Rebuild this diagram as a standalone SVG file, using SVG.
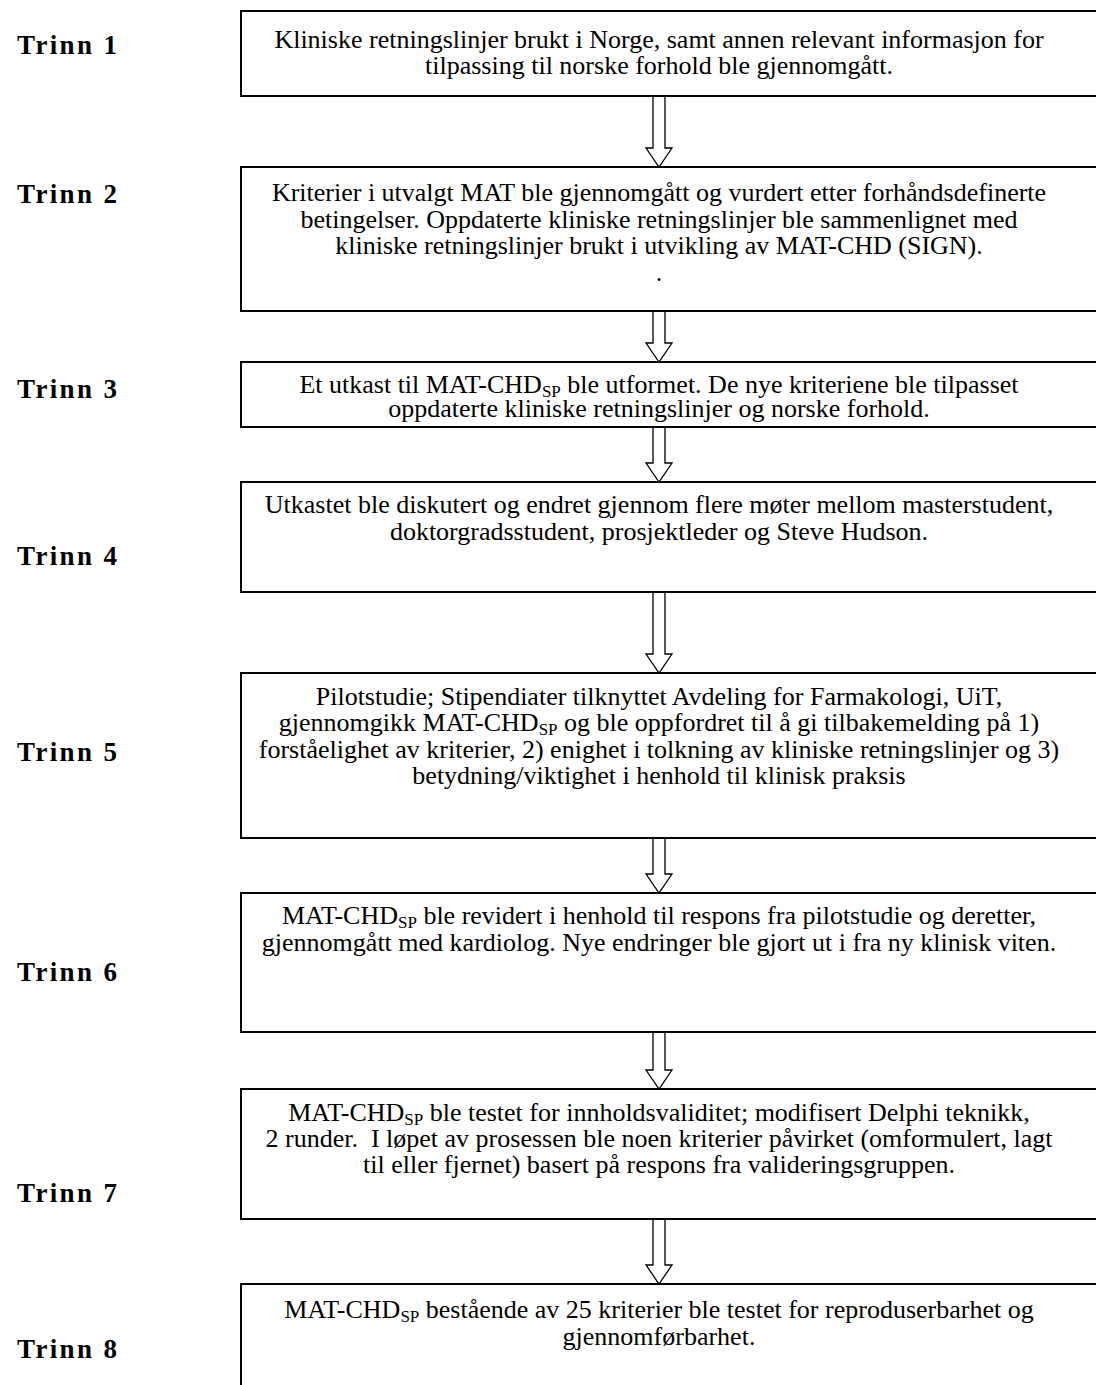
<svg xmlns="http://www.w3.org/2000/svg" width="1096" height="1385" viewBox="0 0 1096 1385">
<style>
.box{fill:#fff;stroke:#000;stroke-width:2}
.t{font-family:"Liberation Serif","Times New Roman",serif;font-size:26px;fill:#000;text-anchor:middle}
.lbl{font-family:"Liberation Serif","Times New Roman",serif;font-size:27px;font-weight:bold;fill:#000}
.sub{font-size:17px}
.arr{fill:#fff;stroke:#000;stroke-width:1.3;stroke-linejoin:miter}
</style>
<rect width="1096" height="1385" fill="#fff"/>
<g id="connectors">
<polygon class="arr" points="653,96 665,96 665,148 672,148 659,167 646,148 653,148"/>
<polygon class="arr" points="653,311 665,311 665,343 672,343 659,362 646,343 653,343"/>
<polygon class="arr" points="653,427 665,427 665,463 672,463 659,482 646,463 653,463"/>
<polygon class="arr" points="653,592 665,592 665,654 672,654 659,673 646,654 653,654"/>
<polygon class="arr" points="653,838 665,838 665,874 672,874 659,893 646,874 653,874"/>
<polygon class="arr" points="653,1032 665,1032 665,1070 672,1070 659,1089 646,1070 653,1070"/>
<polygon class="arr" points="653,1219 665,1219 665,1265 672,1265 659,1284 646,1265 653,1265"/>
</g>
<g id="step1">
<text class="lbl" x="17" y="54" textLength="100" lengthAdjust="spacing">Trinn 1</text>
<rect class="box" x="241" y="11" width="870" height="85"/>
<text class="t" x="659" y="48">Kliniske retningslinjer brukt i Norge, samt annen relevant informasjon for</text>
<text class="t" x="659" y="74">tilpassing til norske forhold ble gjennomgått.</text>
</g>
<g id="step2">
<text class="lbl" x="17" y="203" textLength="100" lengthAdjust="spacing">Trinn 2</text>
<rect class="box" x="241" y="167" width="870" height="144"/>
<text class="t" x="659" y="201">Kriterier i utvalgt MAT ble gjennomgått og vurdert etter forhåndsdefinerte</text>
<text class="t" x="659" y="228">betingelser. Oppdaterte kliniske retningslinjer ble sammenlignet med</text>
<text class="t" x="659" y="254">kliniske retningslinjer brukt i utvikling av MAT-CHD (SIGN).</text>
<text class="t" x="659" y="281">.</text>
</g>
<g id="step3">
<text class="lbl" x="17" y="398" textLength="100" lengthAdjust="spacing">Trinn 3</text>
<rect class="box" x="241" y="362" width="870" height="65"/>
<text class="t" x="659" y="393">Et utkast til MAT-CHD<tspan class="sub" dy="4">SP</tspan><tspan dy="-4"> ble utformet. De nye kriteriene ble tilpasset</tspan></text>
<text class="t" x="659" y="417">oppdaterte kliniske retningslinjer og norske forhold.</text>
</g>
<g id="step4">
<text class="lbl" x="17" y="565" textLength="100" lengthAdjust="spacing">Trinn 4</text>
<rect class="box" x="241" y="482" width="870" height="110"/>
<text class="t" x="659" y="513">Utkastet ble diskutert og endret gjennom flere møter mellom masterstudent,</text>
<text class="t" x="659" y="540">doktorgradsstudent, prosjektleder og Steve Hudson.</text>
</g>
<g id="step5">
<text class="lbl" x="17" y="761" textLength="100" lengthAdjust="spacing">Trinn 5</text>
<rect class="box" x="241" y="673" width="870" height="165"/>
<text class="t" x="659" y="705">Pilotstudie; Stipendiater tilknyttet Avdeling for Farmakologi, UiT,</text>
<text class="t" x="659" y="731">gjennomgikk MAT-CHD<tspan class="sub" dy="4">SP</tspan><tspan dy="-4"> og ble oppfordret til å gi tilbakemelding på 1)</tspan></text>
<text class="t" x="659" y="758">forståelighet av kriterier, 2) enighet i tolkning av kliniske retningslinjer og 3)</text>
<text class="t" x="659" y="784">betydning/viktighet i henhold til klinisk praksis</text>
</g>
<g id="step6">
<text class="lbl" x="17" y="981" textLength="100" lengthAdjust="spacing">Trinn 6</text>
<rect class="box" x="241" y="893" width="870" height="139"/>
<text class="t" x="659" y="924">MAT-CHD<tspan class="sub" dy="4">SP</tspan><tspan dy="-4"> ble revidert i henhold til respons fra pilotstudie og deretter,</tspan></text>
<text class="t" x="659" y="951">gjennomgått med kardiolog. Nye endringer ble gjort ut i fra ny klinisk viten.</text>
</g>
<g id="step7">
<text class="lbl" x="17" y="1202" textLength="100" lengthAdjust="spacing">Trinn 7</text>
<rect class="box" x="241" y="1089" width="870" height="130"/>
<text class="t" x="659" y="1121">MAT-CHD<tspan class="sub" dy="4">SP</tspan><tspan dy="-4"> ble testet for innholdsvaliditet; modifisert Delphi teknikk,</tspan></text>
<text class="t" x="659" y="1147">2 runder.&#160; I løpet av prosessen ble noen kriterier påvirket (omformulert, lagt</text>
<text class="t" x="659" y="1173">til eller fjernet) basert på respons fra valideringsgruppen.</text>
</g>
<g id="step8">
<text class="lbl" x="17" y="1358" textLength="100" lengthAdjust="spacing">Trinn 8</text>
<rect class="box" x="241" y="1284" width="870" height="120"/>
<text class="t" x="659" y="1318">MAT-CHD<tspan class="sub" dy="4">SP</tspan><tspan dy="-4"> bestående av 25 kriterier ble testet for reproduserbarhet og</tspan></text>
<text class="t" x="659" y="1345">gjennomførbarhet.</text>
</g>
</svg>
